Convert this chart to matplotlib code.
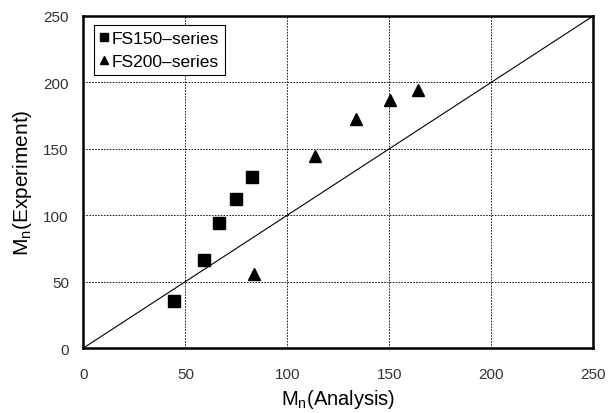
import matplotlib.pyplot as plt

plt.rcParams['font.family'] = ['Liberation Sans', 'DejaVu Sans']

# FS150-series (squares)
fs150_x = [44.3, 59.3, 66.7, 74.7, 82.7]
fs150_y = [35.1, 66.2, 94.2, 112.2, 128.8]
# FS200-series (triangles)
fs200_x = [83.7, 113.4, 133.8, 150.3, 164.3]
fs200_y = [55.5, 144.6, 172.2, 186.9, 194.4]

ticks = [0, 50, 100, 150, 200, 250]

fig = plt.figure(figsize=(6.09, 4.14), dpi=100)
ax = fig.add_axes([0.137, 0.157, 0.837, 0.802])

ax.plot([0, 250], [0, 250], color='black', lw=0.8, zorder=2)
ax.plot(fs150_x, fs150_y, 's', color='black', ms=9, ls='none', label='FS150\u2013series', zorder=3)
ax.plot(fs200_x, fs200_y, '^', color='black', ms=9, ls='none', label='FS200\u2013series', zorder=3)

ax.set_xlim(0, 250)
ax.set_ylim(0, 250)
ax.set_xticks(ticks)
ax.set_yticks(ticks)
ax.grid(True, color='black', ls=(0, (2, 1.5)), lw=0.6)
ax.tick_params(length=0, labelsize=11, labelcolor='#333333')
ax.tick_params(axis='x', pad=13.5)
ax.tick_params(axis='y', pad=10.5)
for s in ax.spines.values():
    s.set_linewidth(1.8)

ax.set_xlabel('M$_\\mathregular{n}$(Analysis)', fontsize=14.5, labelpad=4.5)
ax.set_ylabel('M$_\\mathregular{n}$(Experiment)', fontsize=15, labelpad=7)

leg = ax.legend(loc='upper left', bbox_to_anchor=(0.02, 0.973), fancybox=False,
                edgecolor='black', framealpha=1, handlelength=0.5, handletextpad=0.2,
                fontsize=12.5, borderpad=0.35, labelspacing=0.45, markerscale=0.6,
                borderaxespad=0)
leg.get_frame().set_linewidth(0.8)

plt.savefig('out.png', dpi=100)
